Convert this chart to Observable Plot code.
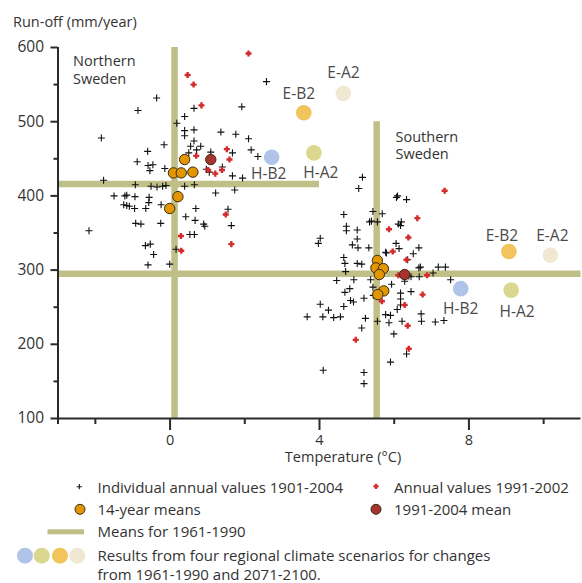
<!DOCTYPE html>
<html><head><meta charset="utf-8">
<script src="https://cdn.jsdelivr.net/npm/d3@7"></script>
<script src="https://cdn.jsdelivr.net/npm/@observablehq/plot@0.6"></script>
<style>
body{margin:0;background:#fff;font-family:"Open Sans",sans-serif;color:#333;}
#wrap{position:relative;width:582px;height:583px;overflow:hidden;}
#title{position:absolute;left:13px;top:13px;font-size:14.5px;line-height:18px;}
#chart{position:absolute;left:0;top:30px;}
#legsym{position:absolute;left:0;top:470px;}
.leg{position:absolute;font-size:15px;line-height:16px;white-space:nowrap;color:#333;}
</style></head><body>
<div id="wrap">
<div id="title">Run-off (mm/year)</div>
<div id="chart"></div>
<div id="legend"></div>
</div>
<script>
// ---- data (temperature °C, run-off mm/year) ----
const northAnnual = [[-0.36,532],[-0.86,515],[0.64,518],[1.92,520],[2.58,554],[0.39,507],[0.18,498],[0.39,488],[0.39,481],[0.64,489],[1.36,486],[1.76,483],[2.10,477],[-1.84,478],[-0.16,469],[0.64,474],[0.55,467],[0.71,462],[0.82,467],[-0.60,460],[-0.88,446],[-0.59,441],[-0.46,442],[-0.54,434],[-0.14,437],[1.09,459],[1.67,458],[2.17,462],[2.35,453],[0.50,458],[0.97,436],[1.05,432],[1.40,439],[1.67,427],[1.94,424],[-1.78,421],[-0.93,415],[-0.51,413],[-0.35,412],[-0.20,413],[-0.11,414],[0.39,413],[0.65,415],[1.22,404],[1.73,408],[-1.50,400],[-1.21,400],[-1.16,401],[-0.94,399],[-0.56,398],[-0.57,391],[-1.24,388],[-1.16,387],[-1.09,386],[-0.95,383],[-0.65,383],[-0.24,388],[0.69,383],[1.55,382],[0.42,372],[0.67,367],[0.90,362],[0.93,359],[-0.92,363],[-0.78,362],[-0.25,363],[1.64,360],[-2.17,353],[0.53,348],[0.65,348],[-0.66,333],[-0.53,335],[-0.44,321],[0.16,328],[-0.59,307],[-0.01,308]];
const southAnnual = [[5.15,425],[5.05,410],[6.09,400],[6.06,398],[6.33,395],[5.43,379],[5.68,376],[4.65,375],[5.34,365],[5.39,366],[5.55,365],[6.11,362],[6.19,365],[6.17,360],[4.72,359],[4.72,353],[5.01,354],[4.02,343],[3.97,336],[5.01,342],[4.88,334],[5.03,330],[5.32,330],[6.05,336],[6.13,329],[6.66,330],[5.77,324],[5.79,323],[6.51,322],[4.65,317],[4.68,309],[5.01,309],[5.13,308],[6.36,314],[6.66,303],[6.70,304],[7.18,304],[7.37,304],[4.70,298],[4.92,287],[4.46,286],[6.39,292],[6.45,291],[6.67,291],[7.04,296],[7.51,287],[6.28,285],[5.37,287],[5.93,281],[4.81,275],[4.68,270],[5.43,277],[6.17,269],[6.45,271],[4.83,259],[4.91,257],[5.19,262],[4.65,251],[4.02,254],[4.24,246],[4.38,236],[3.67,237],[4.09,237],[4.56,237],[6.17,261],[6.17,253],[6.08,247],[5.77,240],[5.90,239],[6.72,241],[6.73,231],[5.44,266],[5.23,235],[5.55,231],[5.86,229],[6.21,231],[7.10,230],[7.33,232],[5.13,222],[5.99,214],[6.33,187],[5.90,176],[4.10,165],[5.19,162],[5.19,147]];
const northRecent = [[2.10,592],[0.47,563],[0.63,550],[0.84,522],[1.52,463],[0.70,454],[1.59,449],[1.02,435],[1.39,435],[1.21,430],[1.49,375],[0.29,346],[0.30,326],[1.64,335]];
const southRecent = [[7.35,407],[6.62,370],[5.86,355],[6.38,344],[5.96,325],[6.33,314],[6.11,293],[6.88,293],[6.76,267],[5.67,258],[6.28,253],[6.36,225],[4.97,206],[6.39,194]];
const northMeans14 = [[0.39,449],[0.09,431],[0.30,431],[0.61,432],[0.21,399],[-0.01,383]];
const southMeans14 = [[5.55,313],[5.51,303],[5.71,302],[5.60,294],[5.72,272],[5.56,267]];
const recentMeans = [[1.09,449],[6.28,294]];
const regions = ["north","south"];
const meanTemp1961 = [0.12, 5.53];
const meanRunoff1961 = [416, 295];
const scenarioNames = ["H-B2","H-A2","E-B2","E-A2"];
const scenarioTempNorth = [2.72, 3.85, 3.58, 4.64];
const scenarioRunoffNorth = [452, 458, 512, 538];
const scenarioTempSouth = [7.78, 9.13, 9.07, 10.18];
const scenarioRunoffSouth = [275, 273, 325, 320];
const xTicksMajor = [0, 4, 8];
const xTicksMinor = [-3, -2, 2, 6, 10];
const yTicksMajor = [100, 200, 300, 400, 500, 600];
const yTicksMinor = [150, 250, 350, 450, 550];

// ---- styles / layout ----
const scenarioColors = {"H-B2":"#afc4e8","H-A2":"#dcd78f","E-B2":"#f1c45c","E-A2":"#f0e8d2"};
const khaki = "#c0bf88";
const meanLineV = {north:[100,600], south:[100,500]};
const meanLineH = {north:[-3,4], south:[-3,11]};
const labelOffsetNorth = {"H-B2":[-3,17],"H-A2":[7,20],"E-B2":[-5,-19],"E-A2":[0,-20]};
const labelOffsetSouth = {"H-B2":[0,20],"H-A2":[6,22],"E-B2":[-7,-16],"E-A2":[2,-19]};

const meanRows = regions.map((r,i)=>({region:r, temp:meanTemp1961[i], runoff:meanRunoff1961[i], y1:meanLineV[r][0], y2:meanLineV[r][1], x1:meanLineH[r][0], x2:meanLineH[r][1]}));
const scenNorth = scenarioNames.map((n,i)=>({name:n, temp:scenarioTempNorth[i], runoff:scenarioRunoffNorth[i]}));
const scenSouth = scenarioNames.map((n,i)=>({name:n, temp:scenarioTempSouth[i], runoff:scenarioRunoffSouth[i]}));

const scenLabels = (rows, offs) => scenarioNames.map(n => Plot.text(rows.filter(d=>d.name===n), {x:"temp", y:"runoff", text:"name", dx:offs[n][0], dy:offs[n][1], fontSize:15.5, fill:"#4a4a4a"}));

const chart = Plot.plot({
  width: 582, height: 442,
  marginTop: 17, marginBottom: 54, marginLeft: 57.5, marginRight: 1.5,
  x: {domain: [-3, 11]},
  y: {domain: [100, 600]},
  style: {fontFamily: "Open Sans, sans-serif", fontSize: "14px", color: "#333", background: "white", overflow: "visible"},
  marks: [
    Plot.ruleX(meanRows, {x:"temp", y1:"y1", y2:"y2", stroke:khaki, strokeWidth:6.5}),
    Plot.ruleY(meanRows, {y:"runoff", x1:"x1", x2:"x2", stroke:khaki, strokeWidth:6.5}),
    Plot.dot(scenNorth.concat(scenSouth), {x:"temp", y:"runoff", r:7.8, fill:d=>scenarioColors[d.name]}),
    ...scenLabels(scenNorth, labelOffsetNorth),
    ...scenLabels(scenSouth, labelOffsetSouth),
    Plot.dot(northAnnual.concat(southAnnual), {x:d=>d[0], y:d=>d[1], symbol:"plus", r:2.4, stroke:"#111", strokeWidth:1.1}),
    Plot.dot(northRecent.concat(southRecent), {x:d=>d[0], y:d=>d[1], symbol:"plus", r:2.1, stroke:"#d42a2a", strokeWidth:2.4}),
    Plot.dot(northMeans14.concat(southMeans14), {x:d=>d[0], y:d=>d[1], r:5.2, fill:"#e29600", stroke:"#3a2a10", strokeWidth:1}),
    Plot.dot(recentMeans, {x:d=>d[0], y:d=>d[1], r:5.2, fill:"#a7322e", stroke:"#3a2a10", strokeWidth:1}),
    Plot.text(["Northern\nSweden"], {frameAnchor:"top-left", dx:15, dy:6, textAnchor:"start", lineAnchor:"top", lineHeight:1.22, fontSize:14.5, fill:"#333"}),
    Plot.text(["Southern\nSweden"], {frameAnchor:"top-left", dx:337.5, dy:81.5, textAnchor:"start", lineAnchor:"top", lineHeight:1.22, fontSize:14.5, fill:"#333"}),
    Plot.text(["Temperature (°C)"], {frameAnchor:"bottom", dx:23.5, dy:43.5, fontSize:14.5, fill:"#333"}),
    Plot.ruleY([100], {stroke:"#2a2a2a", strokeWidth:2}),
    Plot.ruleX([-3], {stroke:"#2a2a2a", strokeWidth:2}),
    Plot.axisX({ticks:xTicksMajor, tickSize:12, tickPadding:4, strokeWidth:2, fontSize:14.5, label:null, stroke:"#2a2a2a"}),
    Plot.axisX({ticks:xTicksMinor, tickSize:6, tickFormat:()=>"", strokeWidth:2, label:null, stroke:"#2a2a2a"}),
    Plot.axisY({ticks:yTicksMajor, tickSize:7, tickPadding:7, strokeWidth:2, fontSize:15.5, label:null, stroke:"#2a2a2a"}),
    Plot.axisY({ticks:yTicksMinor, tickSize:4, tickFormat:()=>"", strokeWidth:2, label:null, stroke:"#2a2a2a"})
  ]
});
document.getElementById("chart").appendChild(chart);

// ---- legend ----
const legendItems = [
  {text:"Individual annual values 1901-2004", left:97.5, top:479},
  {text:"Annual values 1991-2002", left:394, top:479},
  {text:"14-year means", left:97.5, top:501},
  {text:"1991-2004 mean", left:394, top:501},
  {text:"Means for 1961-1990", left:97.5, top:523},
  {text:"Results from four regional climate scenarios for changes", left:97.5, top:546.5},
  {text:"from 1961-1990 and 2071-2100.", left:97.5, top:565.5}
];
const leg = document.getElementById("legend");
legendItems.forEach(d=>{const e=document.createElement("div");e.className="leg";e.style.left=d.left+"px";e.style.top=d.top+"px";e.textContent=d.text;leg.appendChild(e);});
const svg = d3.select(leg).append("svg").attr("id","legsym").attr("width",582).attr("height",113);
const plus=(x,y,h,c,w)=>{svg.append("path").attr("d",`M${x-h},${y}H${x+h}M${x},${y-h}V${y+h}`).attr("stroke",c).attr("stroke-width",w);};
plus(79.3,16.7,2.6,"#111",1.1);
plus(376,16.3,2.6,"#d42a2a",2.2);
svg.append("circle").attr("cx",80).attr("cy",39.3).attr("r",5).attr("fill","#e29600").attr("stroke","#3a2a10");
svg.append("circle").attr("cx",376).attr("cy",39.3).attr("r",5).attr("fill","#a7322e").attr("stroke","#3a2a10");
svg.append("line").attr("x1",47.5).attr("x2",84).attr("y1",61.7).attr("y2",61.7).attr("stroke",khaki).attr("stroke-width",5);
scenarioNames.forEach((n,i)=>svg.append("circle").attr("cx",[25,41.7,60,77.3][i]).attr("cy",85.7).attr("r",8).attr("fill",scenarioColors[n]));
</script>
</body></html>
